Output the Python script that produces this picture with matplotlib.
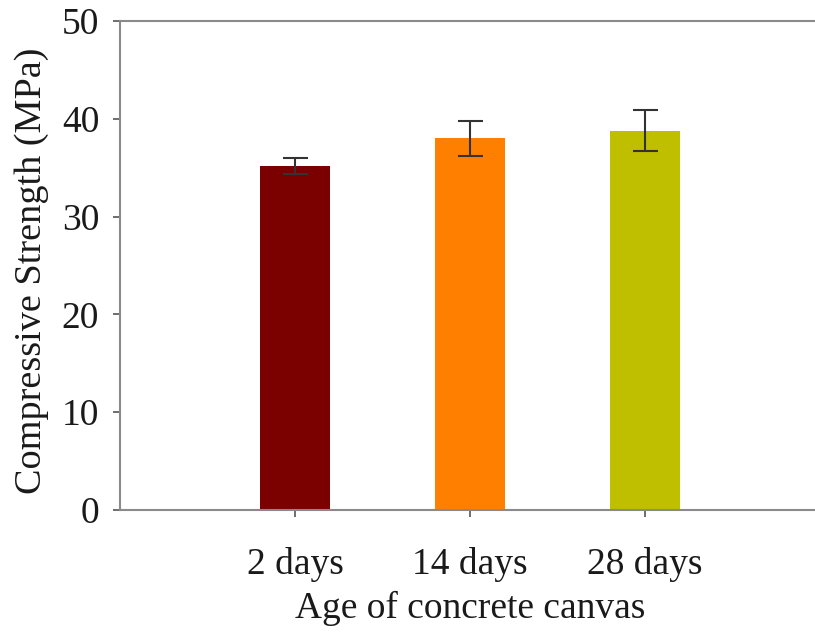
import matplotlib
matplotlib.use("Agg")
import matplotlib.pyplot as plt

categories = ["2 days", "14 days", "28 days"]
values = [35.2, 38.0, 38.8]
errors = [0.8, 1.8, 2.05]
colors = ["#7B0000", "#FF8000", "#BFBF00"]

plt.rcParams['font.family'] = ['Liberation Serif', 'DejaVu Serif']

fig = plt.figure(figsize=(8.15, 6.35), dpi=100)
ax = fig.add_axes([120/815, 125/635, 700/815, 489/635])

x = [1, 2, 3]
ax.bar(x, values, width=0.4, color=colors, yerr=errors,
       error_kw=dict(ecolor="#333333", elinewidth=1.5, capsize=9, capthick=1.5))

ax.set_xlim(0, 4)
ax.set_ylim(0, 50)
ax.set_yticks([0, 10, 20, 30, 40, 50])
ax.set_xticks(x)
ax.set_xticklabels(categories)

for s in ["left", "top", "bottom", "right"]:
    ax.spines[s].set_color("#8a8a8a")
    ax.spines[s].set_linewidth(1.5)

ax.tick_params(axis="both", direction="out", length=5, width=1.2, color="#555555",
               labelsize=27, labelcolor="#1a1a1a")
ax.tick_params(axis="x", pad=22)
ax.tick_params(axis="y", pad=10)

ax.set_xlabel("Age of concrete canvas", fontsize=27, color="#1a1a1a", labelpad=6)
ax.set_ylabel("Compressive Strength (MPa)", fontsize=27.5, color="#1a1a1a")
ax.yaxis.set_label_coords(-0.101, 0.49)

fig.savefig("out.png", dpi=100)
